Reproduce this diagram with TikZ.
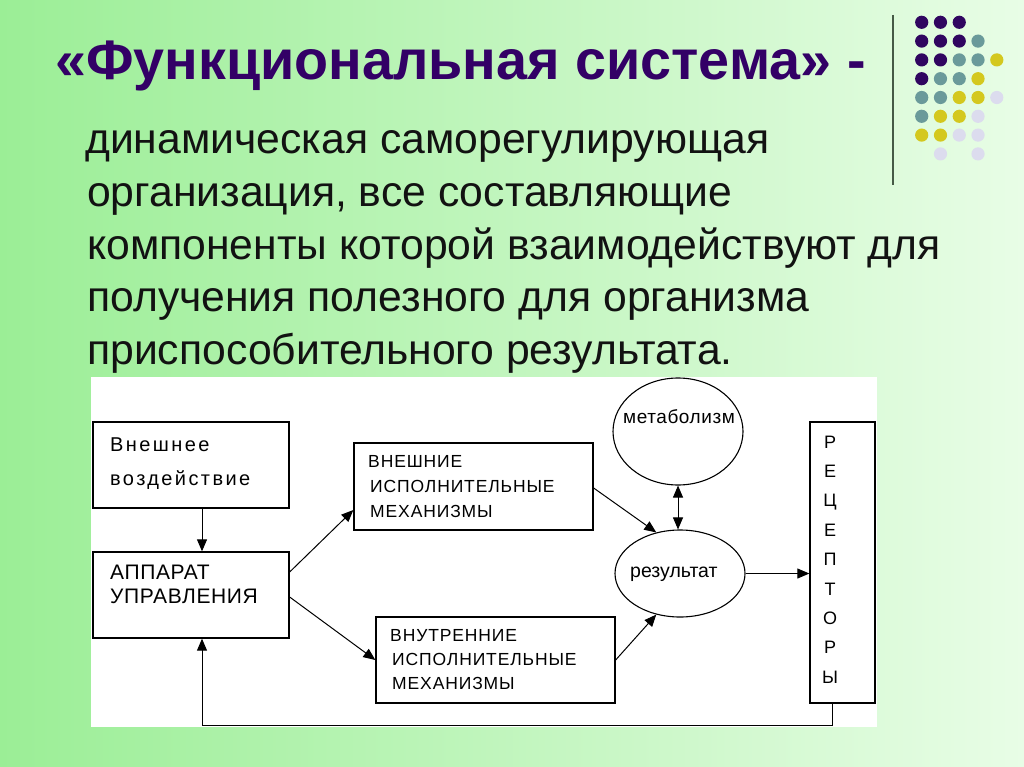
\documentclass[tikz,border=0pt]{standalone}
\usepackage{fontspec}
\setmainfont{Liberation Sans}
\newfontfamily\diagfont[LetterSpace=12]{Liberation Sans}
\newfontfamily\diagfontb[LetterSpace=5]{Liberation Sans}
\newfontfamily\diagfontc[LetterSpace=3]{Liberation Sans}
\usetikzlibrary{arrows.meta,shapes.geometric,calc}
\definecolor{bgL}{RGB}{155,238,150}
\definecolor{bgR}{RGB}{232,253,230}
\definecolor{ttl}{RGB}{51,0,102}
\definecolor{dP}{RGB}{48,6,96}
\definecolor{dT}{RGB}{106,154,154}
\definecolor{dY}{RGB}{212,200,30}
\definecolor{dL}{RGB}{220,220,238}
\definecolor{vline}{RGB}{70,90,70}
\tikzset{
  box/.style={draw=black,line width=1.3pt,fill=white,rectangle,inner sep=0pt},
  oval/.style={draw=black,line width=1.1pt,fill=white,ellipse,inner sep=0pt},
  arr/.style={draw=black,line width=1pt,-{Triangle[length=12pt,width=10pt]}},
  arrb/.style={draw=black,line width=1pt,{Triangle[length=12pt,width=10pt]}-{Triangle[length=12pt,width=10pt]}},
  body/.style={anchor=base west,inner sep=0pt,font=\fontsize{42.7}{44}\selectfont,text=black!93},
  dtext/.style={anchor=base west,inner sep=0pt,text=black},
  rl/.style={anchor=base,inner sep=0pt,font=\fontsize{18}{18}\selectfont},
}
\begin{document}
\begin{tikzpicture}[x=1pt,y=-1pt]
\useasboundingbox (0,0) rectangle (1024,767);
\shade[left color=bgL,right color=bgR] (0,0) rectangle (1024,767);
% decoration
\draw[vline,line width=1.8pt] (893,15) -- (893,185);
\foreach \r/\row in {1/{P,P,P,N,N},2/{P,P,P,T,N},3/{P,P,T,T,Y},4/{P,T,T,Y,N},5/{T,T,Y,Y,L},6/{T,Y,Y,L,N},7/{Y,Y,L,L,N},8/{N,L,N,L,N}}{
  \foreach \c [count=\i] in \row {
    \if N\c\else
      \fill[d\c] ({921.7+(\i-1)*18.77},{22.3+(\r-1)*18.8}) circle (6.6);
    \fi
  }
}
% title
\node[anchor=base west,inner sep=0pt,text=ttl,font=\fontsize{55.7}{57}\bfseries\selectfont] (title) at (55,80) {«Функциональная система» -};
% body
\node[body] (l1) at (85,154) {динамическая саморегулирующая};
\node[body] (l2) at (87,206.5) {организация, все составляющие};
\node[body] (l3) at (87,259) {компоненты которой взаимодействуют для};
\node[body] (l4) at (87,311.5) {получения полезного для организма};
\node[body] (l5) at (87,364) {приспособительного результата.};
% diagram area
\fill[white] (91,377) rectangle (877,727);
\node[box,minimum width=196,minimum height=86] (ext) at (191,465) {};
\node[box,minimum width=196,minimum height=86] (app) at (191,595) {};
\node[box,minimum width=239,minimum height=87] (extm) at (473.5,486.5) {};
\node[box,minimum width=239,minimum height=86] (intm) at (495.5,660) {};
\node[box,minimum width=65,minimum height=281] (rec) at (842.5,562.5) {};
\node[oval,minimum width=130,minimum height=107] (met) at (678,431.5) {};
\node[oval,minimum width=130,minimum height=87] (res) at (680,573.5) {};
% texts
\begin{scope}[every node/.append style={dtext}]
\node[font=\diagfont\fontsize{20}{20}\selectfont] (ta1) at (110,451) {Внешнее};
\node[font=\diagfont\fontsize{20}{20}\selectfont] (ta2) at (110,485) {воздействие};
\node[font=\diagfontc\fontsize{21}{21}\selectfont] (tb1) at (110,579) {АППАРАТ};
\node[font=\diagfontc\fontsize{21}{21}\selectfont] (tb2) at (110,603) {УПРАВЛЕНИЯ};
\node[font=\diagfontb\fontsize{17.5}{17}\selectfont] (tc1) at (368,467) {ВНЕШНИЕ};
\node[font=\diagfontb\fontsize{17.5}{17}\selectfont] (tc2) at (370,492) {ИСПОЛНИТЕЛЬНЫЕ};
\node[font=\diagfontb\fontsize{17.5}{17}\selectfont] (tc3) at (370,517) {МЕХАНИЗМЫ};
\node[font=\diagfontb\fontsize{17.5}{17}\selectfont] (td1) at (390,641) {ВНУТРЕННИЕ};
\node[font=\diagfontb\fontsize{17.5}{17}\selectfont] (td2) at (392,665) {ИСПОЛНИТЕЛЬНЫЕ};
\node[font=\diagfontb\fontsize{17.5}{17}\selectfont] (td3) at (392,689) {МЕХАНИЗМЫ};
\node[font=\diagfontc\fontsize{19}{19}\selectfont] (tm) at (623,423) {метаболизм};
\node[font=\fontsize{19.5}{19}\selectfont] (tr) at (630,577) {результат};
\end{scope}
\foreach \L [count=\k] in {Р,Е,Ц,Е,П,Т,О,Р,Ы}{
  \node[rl] (r\k) at (830,{448+(\k-1)*29.4}) {\L};
}
% connectors
\draw[arr] ([xshift=11pt]ext.south) -- ([xshift=11pt]app.north);
\draw[arr] ([yshift=23pt]app.east) -- ([yshift=-23.5pt]extm.west);
\draw[arr] ([yshift=-2pt]app.east) -- (intm.west);
\draw[arr] ([yshift=-1.5pt]extm.east) -- (res.120);
\draw[arr] ([yshift=0pt]intm.east) -- (res.240);
\draw[arr] (res.east) -- (res.east -| rec.west);
\draw[arrb] (met.south) -- (met.south |- res.north);
\coordinate (fb) at (202,725);
\draw[arr] ([xshift=-10.5pt]rec.south) |- (fb) -- ([xshift=11pt]app.south);
\end{tikzpicture}
\end{document}
